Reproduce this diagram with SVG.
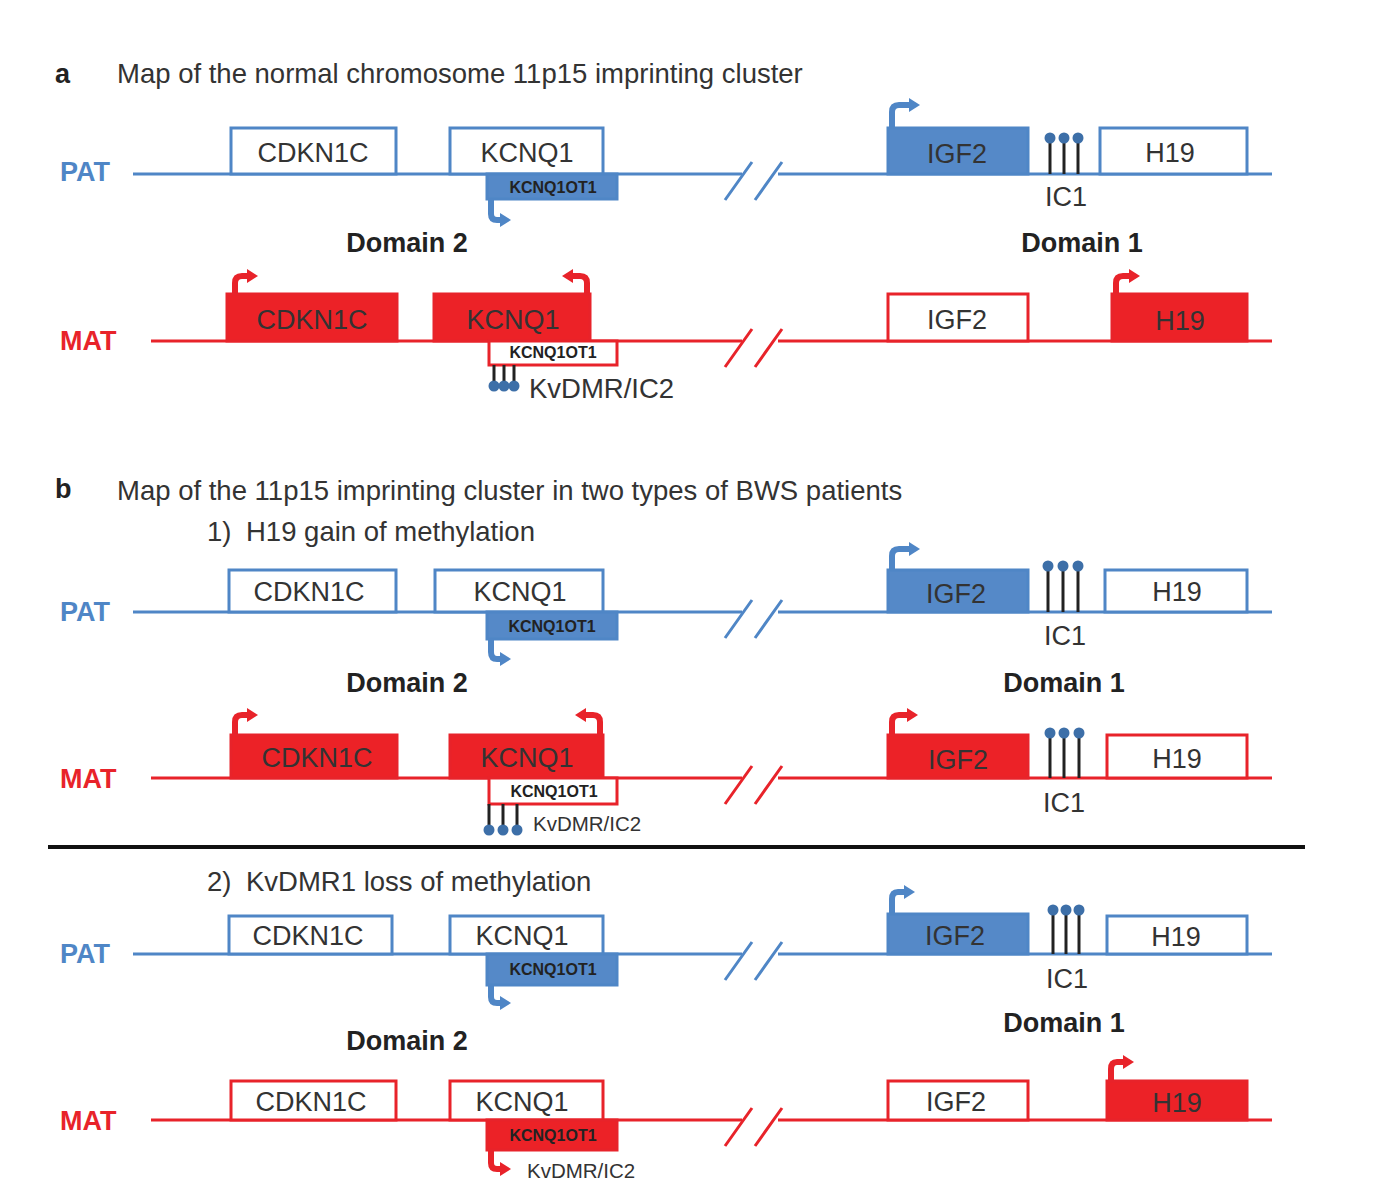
<svg xmlns="http://www.w3.org/2000/svg" width="1395" height="1200" viewBox="0 0 1395 1200">
<style>
text{font-family:"Liberation Sans",Arial,sans-serif;fill:#333}
.hd{font-size:27px;font-weight:bold;fill:#222}
.ti{font-size:27.5px}
.g{font-size:27px;text-anchor:middle}
.sm{font-size:16px;font-weight:bold;text-anchor:middle;fill:#222}
.dm{font-size:27px;font-weight:bold;text-anchor:middle;fill:#222}
.pat{font-size:27px;font-weight:bold;fill:#4f86c6}
.mat{font-size:27px;font-weight:bold;fill:#e8232a}
.lb{stroke:#4f86c6;stroke-width:3;fill:none}
.lr{stroke:#e8232a;stroke-width:3;fill:none}
.ob{fill:#fff;stroke:#4f86c6;stroke-width:3}
.or{fill:#fff;stroke:#e8232a;stroke-width:3}
.fb{fill:#5589c8;stroke:#4f86c6;stroke-width:3}
.fr{fill:#ec2227;stroke:#e8232a;stroke-width:3}
.ab{fill:none;stroke:#4f86c6;stroke-width:6;marker-end:url(#hb)}
.ar{fill:none;stroke:#e8232a;stroke-width:6;marker-end:url(#hr)}
.st{stroke:#222;stroke-width:3}
.ci{fill:#3d6fa8}
</style>
<defs>
<marker id="hb" viewBox="0 0 11 14" refX="1" refY="7" markerWidth="11" markerHeight="14" markerUnits="userSpaceOnUse" orient="auto"><path d="M0,0 L11,7 L0,14 Z" fill="#4f86c6"/></marker>
<marker id="hr" viewBox="0 0 11 14" refX="1" refY="7" markerWidth="11" markerHeight="14" markerUnits="userSpaceOnUse" orient="auto"><path d="M0,0 L11,7 L0,14 Z" fill="#e8232a"/></marker>
</defs>
<rect width="1395" height="1200" fill="#fff"/>

<!-- Headings -->
<g id="headings">
<text class="hd" x="55" y="83">a</text>
<text class="ti" x="117" y="83">Map of the normal chromosome 11p15 imprinting cluster</text>
<text class="hd" x="55" y="498">b</text>
<text class="ti" x="117" y="500">Map of the 11p15 imprinting cluster in two types of BWS patients</text>
<text class="ti" x="207" y="541">1)<tspan x="246">H19 gain of methylation</tspan></text>
<text class="ti" x="207" y="891">2)<tspan x="246">KvDMR1 loss of methylation</tspan></text>
</g>

<!-- chromosome lines -->
<g id="connectors">
<path class="lb" d="M133,174 H742 M778,174 H1272"/>
<path class="lb" d="M725,200 L752,162 M755,200 L782,162"/>
<path class="lr" d="M151,341 H742 M778,341 H1272"/>
<path class="lr" d="M725,367 L752,329 M755,367 L782,329"/>
<path class="lb" d="M133,612 H742 M778,612 H1272"/>
<path class="lb" d="M725,638 L752,600 M755,638 L782,600"/>
<path class="lr" d="M151,778 H742 M778,778 H1272"/>
<path class="lr" d="M725,804 L752,766 M755,804 L782,766"/>
<path class="lb" d="M133,954 H742 M778,954 H1272"/>
<path class="lb" d="M725,980 L752,942 M755,980 L782,942"/>
<path class="lr" d="M151,1120 H742 M778,1120 H1272"/>
<path class="lr" d="M725,1146 L752,1108 M755,1146 L782,1108"/>
<line x1="48" y1="847" x2="1305" y2="847" stroke="#111" stroke-width="4"/>
<!-- promoter arrows -->
<path class="ab" d="M491,198 V214 Q491,220 497,220 H501"/>
<path class="ab" d="M892,130 V112 Q892,105 899,105 H910"/>
<path class="ar" d="M235,296 V283 Q235,276 242,276 H248"/>
<path class="ar" d="M587,296 V283 Q587,276 580,276 H572"/>
<path class="ar" d="M1116,296 V283 Q1116,276 1123,276 H1130"/>
<path class="ab" d="M491,638 V652 Q491,659 497,659 H501"/>
<path class="ab" d="M892,572 V556 Q892,549 899,549 H910"/>
<path class="ar" d="M235,737 V722 Q235,715 242,715 H248"/>
<path class="ar" d="M600,737 V722 Q600,715 593,715 H585"/>
<path class="ar" d="M892,737 V722 Q892,715 899,715 H908"/>
<path class="ab" d="M491,984 V997 Q491,1003 497,1003 H501"/>
<path class="ab" d="M892,916 V899 Q892,892 898,892 H905"/>
<path class="ar" d="M491,1148 V1163 Q491,1169 497,1169 H501"/>
<path class="ar" d="M1111,1083 V1069 Q1111,1062 1117,1062 H1124"/>
</g>

<!-- Section a -->
<g id="a-labels">
<text class="pat" x="60" y="181">PAT</text>
<text class="mat" x="60" y="350">MAT</text>
<text class="dm" x="407" y="252">Domain 2</text>
<text class="dm" x="1082" y="252">Domain 1</text>
</g>
<g id="a-pat-cdkn1c"><rect class="ob" x="231" y="128" width="165" height="46"/><text class="g" x="313" y="162">CDKN1C</text></g>
<g id="a-pat-kcnq1"><rect class="ob" x="450" y="128" width="153" height="46"/><text class="g" x="527" y="162">KCNQ1</text></g>
<g id="a-pat-kcnq1ot1"><rect class="fb" x="487" y="174" width="130" height="25"/><text class="sm" x="553" y="193">KCNQ1OT1</text></g>
<g id="a-pat-igf2"><rect class="fb" x="888" y="128" width="140" height="46"/><text class="g" x="957" y="163">IGF2</text></g>
<g id="a-pat-ic1"><line class="st" x1="1050" y1="174" x2="1050" y2="139"/><line class="st" x1="1064" y1="174" x2="1064" y2="139"/><line class="st" x1="1078" y1="174" x2="1078" y2="139"/><circle class="ci" cx="1050" cy="138" r="5.5"/><circle class="ci" cx="1064" cy="138" r="5.5"/><circle class="ci" cx="1078" cy="138" r="5.5"/><text class="g" x="1066" y="206">IC1</text></g>
<g id="a-pat-h19"><rect class="ob" x="1100" y="128" width="147" height="46"/><text class="g" x="1170" y="162">H19</text></g>

<g id="a-mat-cdkn1c"><rect class="fr" x="227" y="294" width="170" height="47"/><text class="g" x="312" y="329">CDKN1C</text></g>
<g id="a-mat-kcnq1"><rect class="fr" x="434" y="294" width="156" height="47"/><text class="g" x="513" y="329">KCNQ1</text></g>
<g id="a-mat-kcnq1ot1"><rect class="or" x="489" y="341" width="128" height="24"/><text class="sm" x="553" y="358">KCNQ1OT1</text></g>
<g id="a-mat-kvdmr"><line class="st" x1="494" y1="365" x2="494" y2="385"/><line class="st" x1="504" y1="365" x2="504" y2="385"/><line class="st" x1="514" y1="365" x2="514" y2="385"/><circle class="ci" cx="494" cy="386" r="5.5"/><circle class="ci" cx="504" cy="386" r="5.5"/><circle class="ci" cx="514" cy="386" r="5.5"/><text x="529" y="398" style="font-size:27.5px">KvDMR/IC2</text></g>
<g id="a-mat-igf2"><rect class="or" x="888" y="294" width="140" height="47"/><text class="g" x="957" y="329">IGF2</text></g>
<g id="a-mat-h19"><rect class="fr" x="1112" y="294" width="135" height="47"/><text class="g" x="1180" y="330">H19</text></g>

<!-- Section b1 -->
<g id="b1-labels">
<text class="pat" x="60" y="621">PAT</text>
<text class="mat" x="60" y="788">MAT</text>
<text class="dm" x="407" y="692">Domain 2</text>
<text class="dm" x="1064" y="692">Domain 1</text>
</g>
<g id="b1-pat-cdkn1c"><rect class="ob" x="229" y="570" width="167" height="42"/><text class="g" x="309" y="601">CDKN1C</text></g>
<g id="b1-pat-kcnq1"><rect class="ob" x="435" y="570" width="168" height="42"/><text class="g" x="520" y="601">KCNQ1</text></g>
<g id="b1-pat-kcnq1ot1"><rect class="fb" x="487" y="612" width="130" height="27"/><text class="sm" x="552" y="632">KCNQ1OT1</text></g>
<g id="b1-pat-igf2"><rect class="fb" x="888" y="570" width="140" height="42"/><text class="g" x="956" y="603">IGF2</text></g>
<g id="b1-pat-ic1"><line class="st" x1="1048" y1="612" x2="1048" y2="567"/><line class="st" x1="1063" y1="612" x2="1063" y2="567"/><line class="st" x1="1078" y1="612" x2="1078" y2="567"/><circle class="ci" cx="1048" cy="566" r="5.5"/><circle class="ci" cx="1063" cy="566" r="5.5"/><circle class="ci" cx="1078" cy="566" r="5.5"/><text class="g" x="1065" y="645">IC1</text></g>
<g id="b1-pat-h19"><rect class="ob" x="1105" y="570" width="142" height="42"/><text class="g" x="1177" y="601">H19</text></g>

<g id="b1-mat-cdkn1c"><rect class="fr" x="231" y="735" width="166" height="43"/><text class="g" x="317" y="767">CDKN1C</text></g>
<g id="b1-mat-kcnq1"><rect class="fr" x="450" y="735" width="153" height="43"/><text class="g" x="527" y="767">KCNQ1</text></g>
<g id="b1-mat-kcnq1ot1"><rect class="or" x="489" y="778" width="128" height="26"/><text class="sm" x="554" y="797">KCNQ1OT1</text></g>
<g id="b1-mat-kvdmr"><line class="st" x1="489" y1="804" x2="489" y2="829"/><line class="st" x1="503" y1="804" x2="503" y2="829"/><line class="st" x1="517" y1="804" x2="517" y2="829"/><circle class="ci" cx="489" cy="830" r="5.5"/><circle class="ci" cx="503" cy="830" r="5.5"/><circle class="ci" cx="517" cy="830" r="5.5"/><text x="533" y="831" style="font-size:20.5px">KvDMR/IC2</text></g>
<g id="b1-mat-igf2"><rect class="fr" x="888" y="735" width="140" height="43"/><text class="g" x="958" y="769">IGF2</text></g>
<g id="b1-mat-ic1"><line class="st" x1="1050" y1="778" x2="1050" y2="734"/><line class="st" x1="1064" y1="778" x2="1064" y2="734"/><line class="st" x1="1079" y1="778" x2="1079" y2="734"/><circle class="ci" cx="1050" cy="733" r="5.5"/><circle class="ci" cx="1064" cy="733" r="5.5"/><circle class="ci" cx="1079" cy="733" r="5.5"/><text class="g" x="1064" y="812">IC1</text></g>
<g id="b1-mat-h19"><rect class="or" x="1107" y="735" width="140" height="43"/><text class="g" x="1177" y="768">H19</text></g>

<!-- Section b2 -->
<g id="b2-labels">
<text class="pat" x="60" y="963">PAT</text>
<text class="mat" x="60" y="1130">MAT</text>
<text class="dm" x="407" y="1050">Domain 2</text>
<text class="dm" x="1064" y="1032">Domain 1</text>
</g>
<g id="b2-pat-cdkn1c"><rect class="ob" x="229" y="916" width="163" height="38"/><text class="g" x="308" y="945">CDKN1C</text></g>
<g id="b2-pat-kcnq1"><rect class="ob" x="450" y="916" width="153" height="38"/><text class="g" x="522" y="945">KCNQ1</text></g>
<g id="b2-pat-kcnq1ot1"><rect class="fb" x="487" y="954" width="130" height="31"/><text class="sm" x="553" y="975">KCNQ1OT1</text></g>
<g id="b2-pat-igf2"><rect class="fb" x="888" y="914" width="140" height="40"/><text class="g" x="955" y="945">IGF2</text></g>
<g id="b2-pat-ic1"><line class="st" x1="1053" y1="954" x2="1053" y2="911"/><line class="st" x1="1066" y1="954" x2="1066" y2="911"/><line class="st" x1="1079" y1="954" x2="1079" y2="911"/><circle class="ci" cx="1053" cy="910" r="5.5"/><circle class="ci" cx="1066" cy="910" r="5.5"/><circle class="ci" cx="1079" cy="910" r="5.5"/><text class="g" x="1067" y="988">IC1</text></g>
<g id="b2-pat-h19"><rect class="ob" x="1107" y="916" width="140" height="38"/><text class="g" x="1176" y="946">H19</text></g>

<g id="b2-mat-cdkn1c"><rect class="or" x="231" y="1081" width="165" height="39"/><text class="g" x="311" y="1111">CDKN1C</text></g>
<g id="b2-mat-kcnq1"><rect class="or" x="450" y="1081" width="153" height="39"/><text class="g" x="522" y="1111">KCNQ1</text></g>
<g id="b2-mat-kcnq1ot1"><rect class="fr" x="487" y="1120" width="130" height="30"/><text class="sm" x="553" y="1141">KCNQ1OT1</text></g>
<text x="527" y="1178" style="font-size:20.5px">KvDMR/IC2</text>
<g id="b2-mat-igf2"><rect class="or" x="888" y="1081" width="140" height="39"/><text class="g" x="956" y="1111">IGF2</text></g>
<g id="b2-mat-h19"><rect class="fr" x="1107" y="1081" width="140" height="39"/><text class="g" x="1177" y="1112">H19</text></g>
</svg>
